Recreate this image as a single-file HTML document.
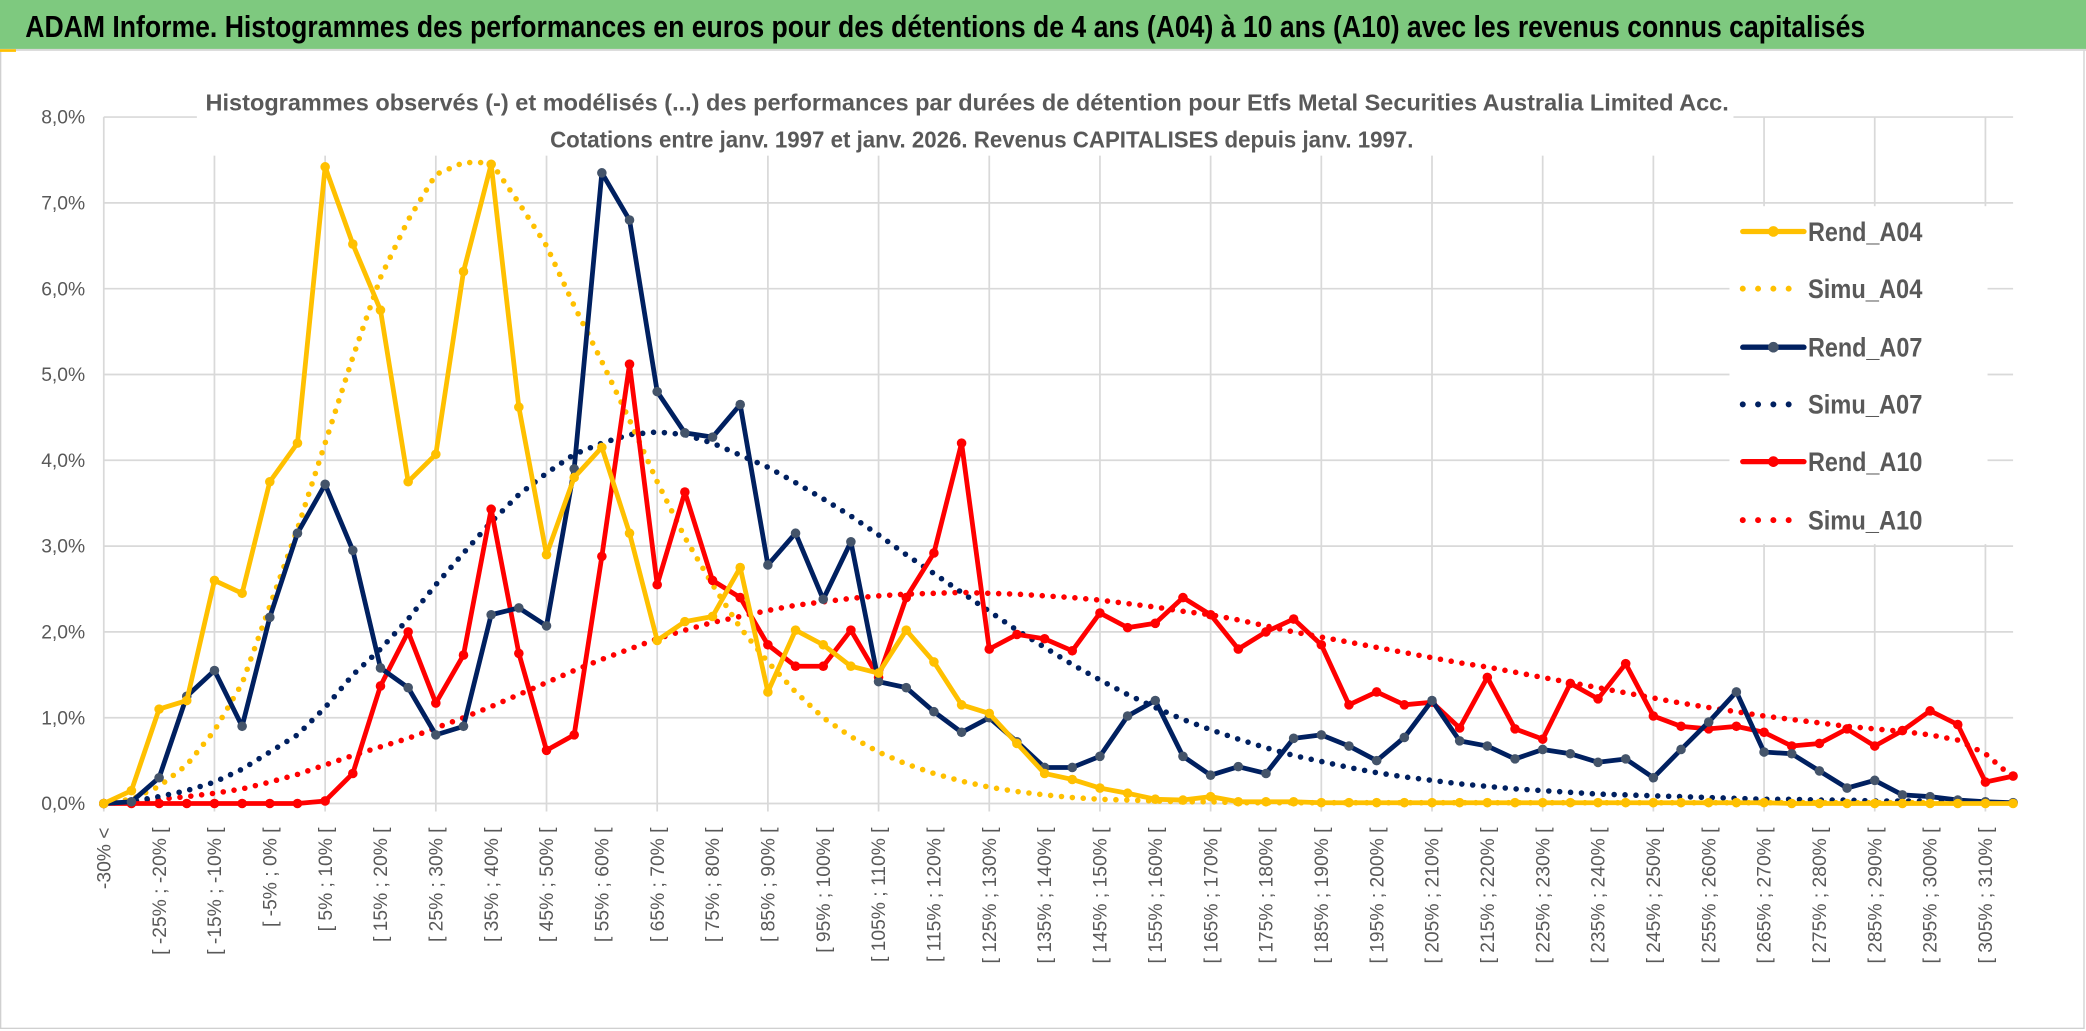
<!DOCTYPE html>
<html><head><meta charset="utf-8"><style>
html,body{margin:0;padding:0;background:#fff;}
svg{display:block;font-family:"Liberation Sans",sans-serif;}
</style></head><body>
<svg id="chart" width="2086" height="1031" viewBox="0 0 1568 775" preserveAspectRatio="none" xmlns="http://www.w3.org/2000/svg">
<rect x="0" y="0" width="1568" height="775" fill="#fff"/>
<rect x="0.5" y="37" width="1566" height="736" fill="none" stroke="#d0d0d0" stroke-width="1"/>
<rect x="0" y="0" width="1568" height="37" fill="#7ec97f"/>
<line x1="0" y1="37.5" x2="1568" y2="37.5" stroke="#d8d8d8" stroke-width="1.5"/>
<rect x="0" y="37" width="12" height="2" fill="#ffc000"/>
<text x="19" y="28" font-size="23" font-weight="bold" fill="#000" textLength="1383" lengthAdjust="spacingAndGlyphs">ADAM Informe. Histogrammes des performances en euros pour des détentions de 4 ans (A04) à 10 ans (A10) avec les revenus connus capitalisés</text>
<g id="grid"></g>
<rect x="148" y="55" width="1155" height="62" fill="#fff"/>
<rect x="1300" y="155" width="194" height="254" fill="#fff"/>
<text x="727" y="83" font-size="17.5" font-weight="bold" fill="#595959" text-anchor="middle" textLength="1145" lengthAdjust="spacingAndGlyphs">Histogrammes observés (-) et modélisés (...) des performances par durées de détention pour Etfs Metal Securities Australia Limited Acc.</text>
<text x="738" y="111" font-size="17.5" font-weight="bold" fill="#595959" text-anchor="middle" textLength="649" lengthAdjust="spacingAndGlyphs">Cotations entre janv. 1997 et janv. 2026. Revenus CAPITALISES depuis janv. 1997.</text>
<g id="axes"></g>
<g id="series"></g>
<g id="legend"></g>
</svg>
<script>
const categories = ["-30% <"];
for (let k = 1; k < 70; k++) { categories.push("[ " + (-35 + 5*k) + "% ; " + (-30 + 5*k) + "% ["); }
const yTicks = [0,1,2,3,4,5,6,7,8];
const yTickLabels = ["0,0%","1,0%","2,0%","3,0%","4,0%","5,0%","6,0%","7,0%","8,0%"];
const rendA04 = [0,0.15,1.1,1.2,2.6,2.45,3.75,4.2,7.42,6.52,5.75,3.75,4.07,6.2,7.45,4.62,2.9,3.8,4.15,3.15,1.9,2.12,2.18,2.75,1.3,2.02,1.85,1.6,1.52,2.02,1.65,1.15,1.05,0.7,0.35,0.28,0.18,0.12,0.05,0.04,0.08,0.02,0.02,0.02,0.01,0.01,0.01,0.01,0.01,0.01,0.01,0.01,0.01,0.01,0.01,0.01,0.01,0.01,0.01,0.01,0.01,0,0,0,0,0,0,0,0,0];
const simuA04 = [0.01,0.05,0.2,0.45,0.85,1.4,2.3,3.2,4.2,5.2,6.13,6.8,7.33,7.47,7.47,7.0,6.5,5.8,5.15,4.47,3.75,3.1,2.55,2.05,1.65,1.3,1.0,0.78,0.6,0.46,0.35,0.26,0.19,0.14,0.1,0.07,0.05,0.04,0.03,0.02,0.02,0.01,0.01,0.01,0.01,0.01,0.01,0.01,0.01,0.01,0.01,0.01,0.01,0.01,0.01,0.01,0.01,0.01,0.01,0.01,0.01,0.01,0.01,0.01,0.01,0.01,0.01,null,null,null];
const rendA07 = [0,0.02,0.3,1.25,1.55,0.9,2.17,3.15,3.72,2.95,1.58,1.35,0.8,0.9,2.2,2.28,2.07,3.9,7.35,6.8,4.8,4.32,4.27,4.65,2.78,3.15,2.38,3.05,1.42,1.35,1.07,0.83,1.0,0.72,0.42,0.42,0.55,1.02,1.2,0.55,0.33,0.43,0.35,0.76,0.8,0.67,0.5,0.77,1.2,0.73,0.67,0.52,0.63,0.58,0.48,0.52,0.3,0.63,0.95,1.3,0.6,0.58,0.38,0.18,0.27,0.1,0.08,0.04,0.02,0.01];
const simuA07 = [0,0.02,0.08,0.15,0.25,0.4,0.6,0.8,1.12,1.5,1.8,2.15,2.55,2.92,3.28,3.6,3.85,4.07,4.2,4.3,4.33,4.3,4.2,4.06,3.92,3.74,3.55,3.35,3.13,2.9,2.68,2.46,2.24,2.02,1.82,1.62,1.44,1.27,1.12,0.98,0.86,0.75,0.65,0.56,0.49,0.42,0.36,0.31,0.27,0.23,0.2,0.17,0.15,0.13,0.11,0.1,0.09,0.08,0.07,0.06,0.05,0.05,0.04,0.04,0.03,0.03,0.03,0.02,0.02,null];
const rendA10 = [0,0,0,0,0,0,0,0,0.03,0.35,1.37,2.0,1.17,1.73,3.43,1.75,0.62,0.8,2.88,5.12,2.55,3.63,2.6,2.4,1.85,1.6,1.6,2.02,1.47,2.4,2.92,4.2,1.8,1.97,1.92,1.78,2.22,2.05,2.1,2.4,2.2,1.8,2.0,2.15,1.85,1.15,1.3,1.15,1.18,0.88,1.47,0.87,0.75,1.4,1.22,1.63,1.02,0.9,0.87,0.9,0.83,0.67,0.7,0.87,0.67,0.85,1.08,0.92,0.25,0.32];
const simuA10 = [0.02,0.03,0.05,0.08,0.12,0.17,0.25,0.34,0.45,0.56,0.66,0.76,0.88,1.0,1.13,1.27,1.41,1.55,1.68,1.8,1.92,2.02,2.11,2.18,2.25,2.31,2.35,2.39,2.42,2.44,2.45,2.46,2.45,2.44,2.42,2.4,2.37,2.33,2.29,2.24,2.2,2.14,2.07,2.0,1.94,1.88,1.82,1.76,1.7,1.64,1.59,1.53,1.47,1.41,1.35,1.29,1.23,1.17,1.12,1.07,1.02,0.98,0.94,0.9,0.87,0.84,0.8,0.74,0.58,0.3];
const seriesNames = ["Rend_A04","Simu_A04","Rend_A07","Simu_A07","Rend_A10","Simu_A10"];

const NS = "http://www.w3.org/2000/svg";
const X0 = 78, DX = 20.8, Y0 = 604, DY = 64.5;
function xScale(i){ return X0 + DX*i; }
function yScale(v){ return Y0 - DY*v; }
function mk(tag, attrs, parent){ const e = document.createElementNS(NS, tag); for (const k in attrs) e.setAttribute(k, attrs[k]); parent.appendChild(e); return e; }

const grid = document.getElementById('grid');
const xEnd = xScale(categories.length - 1);
yTicks.forEach(function(t){
  const l = mk('line', {x1:X0, x2:xEnd, y1:yScale(t), y2:yScale(t), stroke:'#d9d9d9', 'stroke-width':1.3}, grid);
  
  
});
for (let i = 0; i < categories.length; i += 4) {
  const l = mk('line', {x1:xScale(i), x2:xScale(i), y1:yScale(8), y2:Y0 + 6, stroke:'#d9d9d9', 'stroke-width':1.3}, grid);
  
  
}

const axes = document.getElementById('axes');
yTicks.forEach(function(t, k){
  const tx = mk('text', {x:64, y:yScale(t) + 5, 'font-size':14.5, fill:'#595959', 'text-anchor':'end'}, axes);
  tx.textContent = yTickLabels[k];
  
  
});
for (let i = 0; i < categories.length; i += 2) {
  const x = xScale(i) + 5, y = 622;
  const tx = mk('text', {x:x, y:y, 'font-size':14.5, fill:'#595959', 'text-anchor':'end', transform:'rotate(-90 ' + x + ' ' + y + ')'}, axes);
  tx.textContent = categories[i];
  
  
}

const seriesG = document.getElementById('series');
function pathFor(arr){
  let d = '', pen = false;
  arr.forEach(function(v, i){
    if (v === null) { pen = false; return; }
    d += (pen ? 'L' : 'M') + xScale(i).toFixed(1) + ' ' + yScale(v).toFixed(1);
    pen = true;
  });
  return d;
}
function dotted(arr, color, name){
  const p = mk('path', {d:pathFor(arr), fill:'none', stroke:color, 'stroke-width':4.2, 'stroke-linecap':'round', 'stroke-dasharray':'0 8.2'}, seriesG);
  
  
}
function solid(arr, color, mcolor, name){
  const p = mk('path', {d:pathFor(arr), fill:'none', stroke:color, 'stroke-width':3.6, 'stroke-linejoin':'round'}, seriesG);
  
  
  arr.forEach(function(v, i){
    if (v === null) return;
    const c = mk('circle', {cx:xScale(i), cy:yScale(v), r:3.6, fill:mcolor}, seriesG);
    
    
  });
}
dotted(simuA10, '#ff0000', 'simu-a10-line');
dotted(simuA07, '#002060', 'simu-a07-line');
dotted(simuA04, '#ffc000', 'simu-a04-line');
solid(rendA10, '#ff0000', '#ff0000', 'rend-a10-line');
solid(rendA07, '#002060', '#44546a', 'rend-a07-line');
solid(rendA04, '#ffc000', '#ffc000', 'rend-a04-line');

const legend = document.getElementById('legend');
const legY = [174, 217, 261, 304, 347, 391];
const legColors = ['#ffc000','#ffc000','#002060','#002060','#ff0000','#ff0000'];
const legMarker = ['#ffc000',null,'#44546a',null,'#ff0000',null];
seriesNames.forEach(function(n, k){
  const y = legY[k];
  if (legMarker[k]) {
    const l = mk('line', {x1:1310, x2:1356, y1:y, y2:y, stroke:legColors[k], 'stroke-width':4, 'stroke-linecap':'round'}, legend);
    
    
    const c = mk('circle', {cx:1333, cy:y, r:4, fill:legMarker[k]}, legend);
    
    
  } else {
    const l = mk('line', {x1:1310, x2:1356, y1:y, y2:y, stroke:legColors[k], 'stroke-width':4.5, 'stroke-linecap':'round', 'stroke-dasharray':'0 11.5'}, legend);
    
    
  }
  const t = mk('text', {x:1359, y:y + 7, 'font-size':20, 'font-weight':'bold', fill:'#595959', textLength:86, lengthAdjust:'spacingAndGlyphs'}, legend);
  t.textContent = n;
  
  
});
</script>
</body></html>
